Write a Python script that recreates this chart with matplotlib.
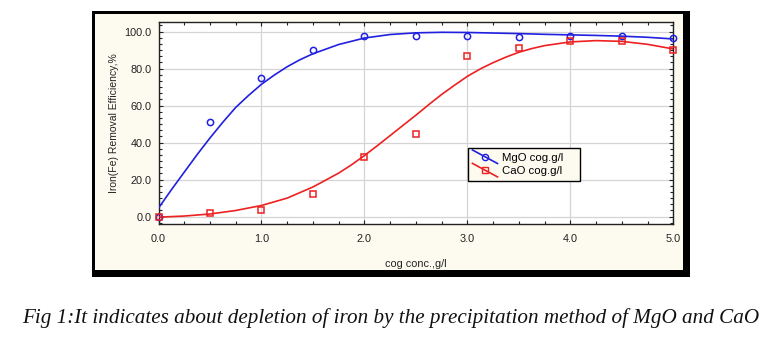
import numpy as np
import matplotlib
matplotlib.use("Agg")
import matplotlib.pyplot as plt
from matplotlib.lines import Line2D
from matplotlib.patches import Rectangle
from matplotlib.legend_handler import HandlerLine2D
from matplotlib.ticker import MultipleLocator, AutoMinorLocator

# measured points
conc = [0.0, 0.5, 1.0, 1.5, 2.0, 2.5, 3.0, 3.5, 4.0, 4.5, 5.0]
mgo = [0.0, 51.0, 75.0, 90.2, 97.8, 97.8, 97.8, 97.1, 97.5, 97.5, 96.5]
cao = [0.0, 2.0, 3.5, 12.3, 32.2, 44.7, 86.6, 90.9, 94.7, 94.7, 90.2]

# fitted curves
mgo_fit_x = [0.0, 0.125, 0.25, 0.375, 0.5, 0.625, 0.75, 0.875, 1.0, 1.125,
             1.25, 1.375, 1.5, 1.75, 2.0, 2.25, 2.5, 2.75, 3.0, 3.25, 3.5,
             3.75, 4.0, 4.25, 4.5, 4.75, 5.0]
mgo_fit = [4.6, 14.5, 24.0, 33.5, 42.5, 51.0, 59.0, 65.5, 71.5, 76.5,
           81.0, 84.8, 88.0, 93.0, 96.5, 98.4, 99.3, 99.6, 99.5, 99.2, 98.9,
           98.5, 98.2, 97.9, 97.5, 96.9, 96.0]
cao_fit_x = [0.0, 0.25, 0.5, 0.75, 1.0, 1.25, 1.5, 1.75, 1.875, 2.0, 2.125,
             2.25, 2.375, 2.5, 2.625, 2.75, 2.875, 3.0, 3.125, 3.25, 3.375,
             3.5, 3.625, 3.75, 4.0, 4.25, 4.5, 4.75, 5.0]
cao_fit = [-0.3, 0.3, 1.4, 3.3, 6.0, 10.0, 16.0, 23.5, 28.0, 33.0, 38.3,
           43.8, 49.3, 54.8, 60.5, 66.0, 71.0, 75.8, 79.8, 83.2, 86.2,
           88.8, 90.8, 92.4, 94.4, 95.1, 94.7, 93.1, 90.6]

x_ticks = [0, 1, 2, 3, 4, 5]
y_ticks = [0, 20, 40, 60, 80, 100]

cream = "#fdfaf0"
blue = "#2020e0"
red = "#ee2020"

plt.rcParams['font.family'] = ['Liberation Sans', 'DejaVu Sans']


class DiagHandler(HandlerLine2D):
    # statistica style legend key: slanted line with marker in the middle
    def create_artists(self, legend, orig_handle, xdescent, ydescent,
                       width, height, fontsize, trans):
        x0, x1 = -xdescent, -xdescent + width
        y0, y1 = -ydescent + height, -ydescent
        ln = Line2D([x0, x1], [y0 + 2, y1 - 2], color=orig_handle.get_color(),
                    lw=orig_handle.get_linewidth())
        mk = Line2D([(x0 + x1) / 2], [(y0 + y1) / 2], ls="none",
                    marker=orig_handle.get_marker(),
                    mfc="none", mec=orig_handle.get_color(),
                    ms=orig_handle.get_markersize())
        ln.set_transform(trans)
        mk.set_transform(trans)
        return [ln, mk]


W, H = 768, 339
fig = plt.figure(figsize=(W / 100, H / 100), dpi=100)
fig.patch.set_facecolor("white")

# framed panel (thicker edge on right and bottom)
fig.patches.append(Rectangle((92 / W, 1 - 277 / H), (690 - 92) / W, (277 - 11) / H,
                             transform=fig.transFigure, facecolor="black",
                             edgecolor="none", zorder=-10))
fig.patches.append(Rectangle((95 / W, 1 - 270 / H), (683 - 95) / W, (270 - 14) / H,
                             transform=fig.transFigure, facecolor=cream,
                             edgecolor="none", zorder=-9))

ax = fig.add_axes([158.5 / W, 1 - 224 / H, (673.3 - 158.5) / W, (224 - 22.3) / H])
ax.set_facecolor("white")

ax.plot(mgo_fit_x, mgo_fit, color=blue, lw=1.2, zorder=3)
ax.plot(cao_fit_x, cao_fit, color=red, lw=1.2, zorder=3)
ax.plot(conc, mgo, ls="none", marker="o", ms=4.5, mfc="none", mec=blue,
        mew=1.1, clip_on=False, zorder=4)
ax.plot(conc, cao, ls="none", marker="s", ms=4.5, mfc="none", mec=red,
        mew=1.1, clip_on=False, zorder=4)

ax.set_xlim(0, 5)
ax.set_ylim(-4, 105)
ax.set_xticks(x_ticks)
ax.set_xticklabels([f"{v:.1f}" for v in x_ticks])
ax.set_yticks(y_ticks)
ax.set_yticklabels([f"{v:.1f}" for v in y_ticks])
ax.xaxis.set_minor_locator(MultipleLocator(0.25))
ax.yaxis.set_minor_locator(AutoMinorLocator(6))
ax.tick_params(which="both", direction="in", top=True, right=True,
               labelsize=7.8, colors="#222222", width=0.8)
ax.tick_params(which="major", length=3)
ax.tick_params(axis="x", which="major", pad=7)
ax.tick_params(axis="y", which="major", pad=5)
ax.tick_params(which="minor", length=2)
ax.grid(True, which="major", color="#d4d4d4", lw=0.9)
ax.set_axisbelow(True)
for s in ax.spines.values():
    s.set_color("#222222")
    s.set_linewidth(1.0)

ax.set_xlabel("cog conc.,g/l", fontsize=7.8, labelpad=11, color="#222222")
ax.set_ylabel("Iron(Fe) Removal Efficiency,%", fontsize=7.5, labelpad=4,
              color="#222222")

h1 = Line2D([], [], color=blue, lw=1.2, marker="o", ms=4.5)
h2 = Line2D([], [], color=red, lw=1.2, marker="s", ms=4.5)
leg = ax.legend([h1, h2], ["MgO cog.g/l    ", "CaO cog.g/l    "],
                handler_map={Line2D: DiagHandler()},
                loc="upper left", bbox_to_anchor=(0.601, 0.376),
                borderaxespad=0, fontsize=8.2, fancybox=False,
                framealpha=1, facecolor=cream, edgecolor="black",
                handlelength=2.2, handletextpad=0.4, labelspacing=0.3,
                borderpad=0.4)
leg.get_frame().set_linewidth(1.0)

fig.text(22 / W, 1 - 318 / H,
         "Fig 1:It indicates about depletion of iron by the precipitation method of MgO and CaO",
         family=["Liberation Serif", "DejaVu Serif"], style="italic",
         fontsize=15.2, ha="left", va="center", color="#111111")

fig.savefig("out.png", dpi=100)
